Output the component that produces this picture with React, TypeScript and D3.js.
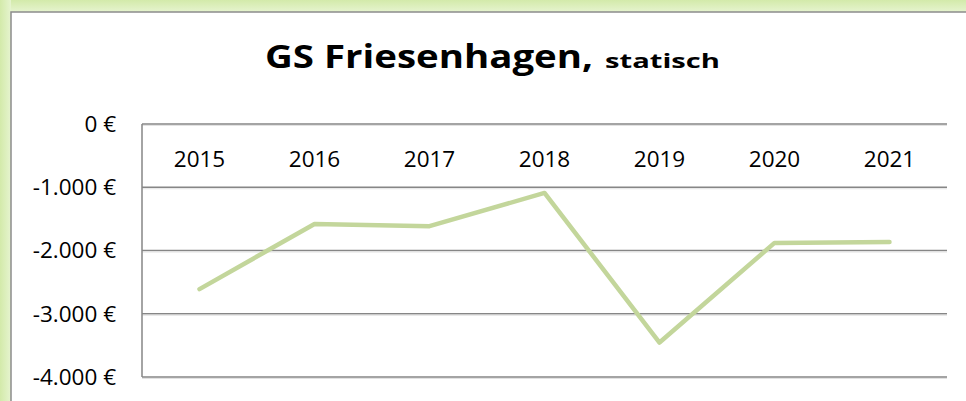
import React from "react";
import * as d3 from "d3";

const years = ["2015", "2016", "2017", "2018", "2019", "2020", "2021"];
const values = [-2610, -1580, -1615, -1090, -3455, -1880, -1865];
const yTicks = [0, -1000, -2000, -3000, -4000];
const titleMain = "GS Friesenhagen,";
const titleSub = "statisch";

const W = 966;
const H = 401;

function fmtEuro(v: number): string {
  const s = Math.abs(v).toString().replace(/\B(?=(\d{3})+(?!\d))/g, ".");
  return (v < 0 ? "-" : "") + s + " €";
}

export default function App() {
  const left = 142;
  const right = 947;
  const top = 124;
  const bottom = 377;
  const x = d3.scaleBand<string>().domain(years).range([left, right]).padding(0);
  const y = d3.scaleLinear().domain([-4000, 0]).range([bottom, top]);
  const line = d3
    .line<number>()
    .x((_, i) => (x(years[i]) as number) + x.bandwidth() / 2)
    .y((d) => y(d));

  return (
    <div style={{ position: "fixed", left: 0, top: 0, width: W, height: H }}>
      <svg width={W} height={H} style={{ display: "block" }}>
        <defs>
          <linearGradient id="gt" x1="0" y1="0" x2="0" y2="1">
            <stop offset="0" stopColor="#d3eaaa" />
            <stop offset="1" stopColor="#e6f4cf" />
          </linearGradient>
          <linearGradient id="gl" x1="0" y1="0" x2="1" y2="0">
            <stop offset="0" stopColor="#d3eaaa" />
            <stop offset="1" stopColor="#e6f4cf" />
          </linearGradient>
        </defs>
        <rect x={0} y={0} width={W} height={H} fill="#ffffff" />
        <rect x={0} y={0} width={W} height={12} fill="url(#gt)" />
        <rect x={0} y={0} width={11} height={H} fill="url(#gl)" />
        <rect
          x={11}
          y={12}
          width={W + 20}
          height={H + 20}
          fill="#ffffff"
          stroke="#8c8c8c"
          strokeWidth={1.5}
        />
        <text
          x={265}
          y={68}
          fontFamily="'Open Sans', sans-serif"
          fontWeight="bold"
          fontSize={32}
          textLength={328}
          lengthAdjust="spacingAndGlyphs"
          fill="#000"
        >
          {titleMain}
        </text>
        <text
          x={605}
          y={68}
          fontFamily="'Open Sans', sans-serif"
          fontWeight="bold"
          fontSize={20}
          textLength={115}
          lengthAdjust="spacingAndGlyphs"
          fill="#000"
        >
          {titleSub}
        </text>
        {yTicks.map((t) => (
          <g key={t}>
            <line x1={left} x2={right} y1={y(t)} y2={y(t)} stroke="#868686" strokeWidth={1.5} />
            <line x1={left} x2={right} y1={y(t) + 1.5} y2={y(t) + 1.5} stroke="#e2e2e2" strokeWidth={1} />
            <text
              x={116}
              y={y(t)}
              dy="0.35em"
              textAnchor="end"
              fontFamily="'Open Sans', sans-serif"
              fontSize={22.5}
              fill="#000"
            >
              {fmtEuro(t)}
            </text>
          </g>
        ))}
        <line x1={left} x2={left} y1={top} y2={bottom} stroke="#868686" strokeWidth={1.5} />
        {years.map((yr) => (
          <text
            key={yr}
            x={(x(yr) as number) + x.bandwidth() / 2}
            y={167}
            textAnchor="middle"
            fontFamily="'Open Sans', sans-serif"
            fontSize={22.5}
            fill="#000"
          >
            {yr}
          </text>
        ))}
        <path
          d={line(values) || ""}
          fill="none"
          stroke="#c3d69b"
          strokeWidth={4.5}
          strokeLinecap="round"
          strokeLinejoin="round"
        />
      </svg>
    </div>
  );
}
